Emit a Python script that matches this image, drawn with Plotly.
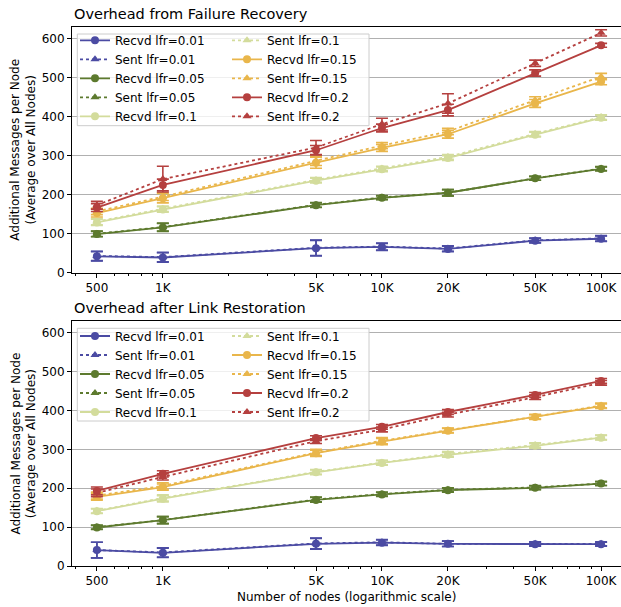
import plotly.graph_objects as go

nodes = [500, 1000, 5000, 10000, 20000, 50000, 100000]
tick_labels = ["500", "1K", "5K", "10K", "20K", "50K", "100K"]
minor_ticks = [400, 600, 700, 800, 900, 2000, 3000, 4000, 6000, 7000, 8000, 9000,
               30000, 40000, 60000, 70000, 80000, 90000]
lfr_labels = ["0.01", "0.05", "0.1", "0.15", "0.2"]
colors = ["#4b4ba3", "#5d7a2e", "#d3dc9c", "#e9b64b", "#b5403f"]

# --- Overhead from Failure Recovery ---
fail_recvd = [
    [42, 39, 63, 66, 61, 82, 87],
    [99, 116, 173, 192, 205, 242, 266],
    [129, 162, 236, 265, 294, 354, 397],
    [153, 191, 282, 320, 355, 434, 490],
    [167, 225, 314, 371, 417, 512, 583],
]
fail_recvd_err = [
    [12, 12, 20, 9, 7, 6, 7],
    [7, 10, 6, 5, 8, 5, 5],
    [8, 7, 6, 6, 6, 6, 6],
    [10, 12, 14, 9, 10, 10, 8],
    [10, 15, 12, 10, 15, 8, 5],
]
fail_sent = [
    [43, 40, 64, 67, 62, 83, 88],
    [100, 117, 174, 193, 205, 242, 267],
    [131, 164, 238, 267, 297, 356, 399],
    [157, 195, 287, 326, 362, 443, 503],
    [173, 240, 321, 381, 434, 537, 615],
]
fail_sent_err = [
    [12, 12, 20, 9, 7, 6, 7],
    [7, 10, 6, 5, 8, 5, 5],
    [8, 7, 6, 6, 6, 6, 6],
    [8, 10, 12, 8, 8, 8, 8],
    [10, 33, 18, 15, 25, 8, 8],
]

# --- Overhead after Link Restoration ---
rest_recvd = [
    [41, 34, 57, 60, 57, 56, 56],
    [99, 118, 170, 184, 195, 201, 212],
    [141, 173, 241, 265, 286, 309, 330],
    [178, 203, 290, 320, 348, 383, 411],
    [193, 237, 329, 358, 396, 440, 476],
]
rest_recvd_err = [
    [20, 12, 14, 7, 7, 5, 5],
    [5, 9, 6, 5, 5, 5, 5],
    [6, 8, 6, 6, 6, 6, 6],
    [9, 8, 8, 8, 6, 6, 6],
    [10, 8, 6, 6, 6, 6, 6],
]
rest_sent = [
    [41, 35, 58, 61, 57, 57, 57],
    [100, 118, 171, 185, 196, 202, 212],
    [142, 175, 242, 266, 288, 311, 331],
    [181, 206, 292, 322, 349, 384, 413],
    [188, 229, 321, 351, 389, 434, 471],
]
rest_sent_err = [
    [20, 12, 14, 7, 7, 5, 5],
    [5, 9, 6, 5, 5, 5, 5],
    [6, 8, 6, 6, 6, 6, 6],
    [9, 8, 8, 8, 6, 6, 6],
    [10, 8, 6, 6, 6, 6, 6],
]

FONT = "DejaVu Sans"
W, H = 621, 607
ML, MR, MT, MB = 72, 0, 27, 41
PW, PH = W - ML - MR, H - MT - MB


def px_x(p):
    return (p - ML) / PW


def px_y(p):
    return (H - MB - p) / PH


fig = go.Figure()


def add_panel(recvd, recvd_err, sent, sent_err, xa, ya, legend, grp):
    k = 0
    for i in range(5):
        for kind in ("Recvd", "Sent"):
            vals = recvd[i] if kind == "Recvd" else sent[i]
            errs = recvd_err[i] if kind == "Recvd" else sent_err[i]
            fig.add_trace(go.Scatter(
                x=nodes, y=vals, xaxis=xa, yaxis=ya,
                mode="lines+markers",
                name=f"{kind} lfr={lfr_labels[i]}",
                line=dict(color=colors[i], width=1.8,
                          dash="solid" if kind == "Recvd" else "dot"),
                marker=dict(color=colors[i], size=8,
                            symbol="circle" if kind == "Recvd" else "triangle-up"),
                error_y=dict(type="data", array=errs, color=colors[i],
                             thickness=1.6, width=6),
                legend=legend,
                legendgroup=grp + ("a" if k < 5 else "b"),
            ))
            k += 1


add_panel(fail_recvd, fail_recvd_err, fail_sent, fail_sent_err, "x", "y", "legend", "t")
add_panel(rest_recvd, rest_recvd_err, rest_sent, rest_sent_err, "x2", "y2", "legend2", "b")

xaxis_common = dict(
    type="log", range=[2.5854, 5.0909],
    tickmode="array", tickvals=nodes, ticktext=tick_labels,
    ticks="outside", ticklen=4, tickwidth=1, tickcolor="black",
    showline=True, linecolor="black", linewidth=1, mirror=True,
    showgrid=False, zeroline=False,
    tickfont=dict(family=FONT, size=12, color="black"),
    minor=dict(tickvals=minor_ticks, ticks="outside", ticklen=2.4,
               tickwidth=0.8, tickcolor="black", showgrid=False),
)
yaxis_common = dict(
    range=[0, 630], tickvals=[0, 100, 200, 300, 400, 500, 600],
    ticks="outside", ticklen=4, tickwidth=1, tickcolor="black",
    showline=True, linecolor="black", linewidth=1, mirror=False,
    showgrid=True, gridcolor="#b0b0b0", gridwidth=1, zeroline=False,
    tickfont=dict(family=FONT, size=12, color="black"),
)

top_dom = [px_y(272.7), 1.0]
bot_dom = [0.0, px_y(321)]

legend_common = dict(
    orientation="h", xanchor="left", yanchor="top",
    bgcolor="rgba(0,0,0,0)", borderwidth=0,
    font=dict(family=FONT, size=12, color="black"),
    entrywidth=107, entrywidthmode="pixels", itemwidth=30,
)

fig.update_layout(
    width=W, height=H,
    margin=dict(l=ML, r=MR, t=MT, b=MB, pad=0),
    paper_bgcolor="white", plot_bgcolor="white",
    font=dict(family=FONT, size=12, color="black"),
    xaxis=dict(domain=[0, 1], anchor="y", **xaxis_common),
    yaxis=dict(domain=top_dom, anchor="x", **yaxis_common),
    xaxis2=dict(domain=[0, 1], anchor="y2", **xaxis_common),
    yaxis2=dict(domain=bot_dom, anchor="x2", **yaxis_common),
    legend=dict(x=px_x(75), y=px_y(25.8), **legend_common),
    legend2=dict(x=px_x(75), y=px_y(321.5), **legend_common),
    showlegend=True,
)

# legend frames (matplotlib-like translucent box)
for (t, b) in [(34, 125.7), (328.3, 421)]:
    fig.add_shape(type="rect", xref="paper", yref="paper",
                  x0=px_x(77.3), x1=px_x(369), y0=px_y(b), y1=px_y(t),
                  fillcolor="rgba(255,255,255,0.8)",
                  line=dict(color="#cccccc", width=1), layer="above")

ann = []
ann.append(dict(text="Overhead from Failure Recovery", x=0, y=px_y(14),
                xref="paper", yref="paper", xanchor="left", yanchor="middle",
                showarrow=False, font=dict(family=FONT, size=14.5, color="black")))
ann.append(dict(text="Overhead after Link Restoration", x=0, y=px_y(308),
                xref="paper", yref="paper", xanchor="left", yanchor="middle",
                showarrow=False, font=dict(family=FONT, size=14.5, color="black")))
ann.append(dict(text="Number of nodes (logarithmic scale)", x=0.5, y=px_y(597),
                xref="paper", yref="paper", xanchor="center", yanchor="middle",
                showarrow=False, font=dict(family=FONT, size=12, color="black")))
for cy in [(26.7 + 272.7) / 2, (321 + 566) / 2]:
    ann.append(dict(text="Additional Messages per Node<br>(Average over All Nodes)",
                    x=px_x(23), y=px_y(cy), xref="paper", yref="paper",
                    xanchor="center", yanchor="middle", textangle=-90,
                    showarrow=False, font=dict(family=FONT, size=12, color="black")))
fig.update_layout(annotations=ann)

fig.write_html("out.html", config={"displayModeBar": False},
               post_script="document.body.style.margin='0';")
